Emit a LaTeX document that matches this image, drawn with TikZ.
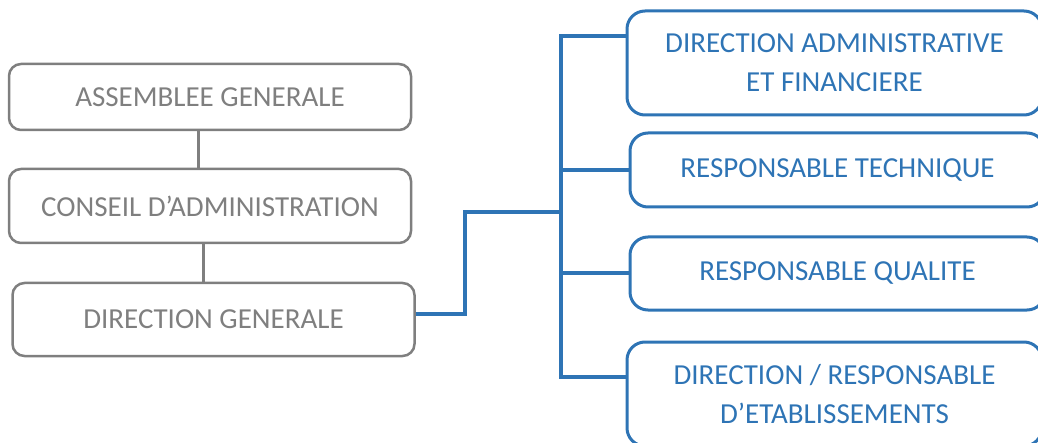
\documentclass[tikz,border=0pt]{standalone}
\usepackage{fontspec}
\setmainfont{Carlito}
\usepackage{xcolor}
\usetikzlibrary{positioning,calc}
\definecolor{boxgray}{HTML}{7F7F7F}
\definecolor{boxblue}{HTML}{2E74B5}
\begin{document}
\begin{tikzpicture}[x=1pt, y=1pt,
    graybox/.style={draw=boxgray, line width=2.5pt, rounded corners=12pt, text=boxgray,
        minimum width=402pt, inner sep=0pt, font=\fontsize{29}{39}\selectfont, align=center},
    bluebox/.style={draw=boxblue, line width=3pt, rounded corners=18pt, text=boxblue,
        minimum width=415pt, inner sep=0pt, font=\fontsize{29}{39}\selectfont, align=center},
    grayline/.style={draw=boxgray, line width=3pt},
    blueline/.style={draw=boxblue, line width=4pt}]
    \useasboundingbox (0,0) rectangle (1038,442);
    \clip (0,0) rectangle (1038,442);

    % left column
    \node [graybox, minimum height=66pt] (ag) at (210,345) {ASSEMBLEE GENERALE};
    \node [graybox, minimum height=74pt] (ca) at (210,236) {CONSEIL D’ADMINISTRATION};
    \node [graybox, minimum height=73pt] (dg) at (213.5,122.5) {DIRECTION GENERALE};

    \draw [grayline] ([xshift=-12pt]ag.south) -- ([xshift=-12pt]ca.north);
    \draw [grayline] ([xshift=-7pt]ca.south) -- ([xshift=-10.5pt]dg.north);

    % right column
    \node [bluebox, minimum height=104pt] (daf) at (834.5,379) {DIRECTION ADMINISTRATIVE\\ET FINANCIERE};
    \node [bluebox, minimum height=74pt] (rt) at (837.5,272) {RESPONSABLE TECHNIQUE};
    \node [bluebox, minimum height=73pt] (rq) at (837.5,168.5) {RESPONSABLE QUALITE};
    \node [bluebox, minimum height=104pt] (dre) at (834.5,48) {DIRECTION / RESPONSABLE\\D’ETABLISSEMENTS};

    % connectors
    \coordinate (bus) at (561,230);
    \draw [blueline] ([yshift=6pt]dg.east) -- ++(49,0) |- (bus);
    \draw [blueline] ([yshift=27pt]daf.west) -| (bus) |- ([yshift=17pt]dre.west);
    \draw [blueline] (bus |- rt.west) -- (rt.west);
    \draw [blueline] (bus |- rq.west) -- (rq.west);
\end{tikzpicture}
\end{document}
